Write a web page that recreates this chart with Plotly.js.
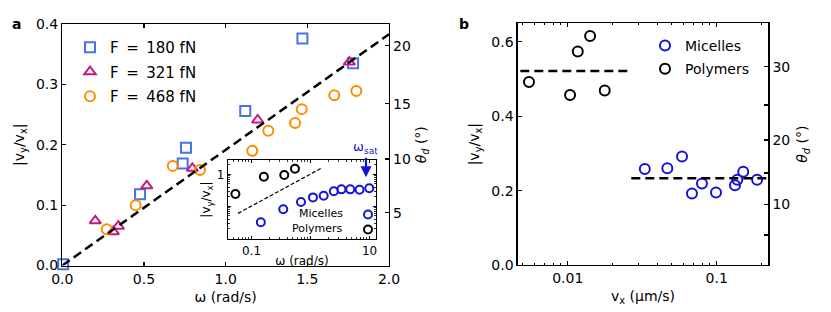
<!DOCTYPE html>
<html>
<head>
<meta charset="utf-8">
<script src="https://cdn.plot.ly/plotly-3.0.1.min.js"></script>
<style>html,body{margin:0;padding:0;background:#fff;}#chart{width:831px;height:312px;}</style>
</head>
<body>
<div id="chart"></div>
<script>
// ---- Panel a data ----
const omegaF180 = [0.005, 0.476, 0.737, 0.757, 1.12, 1.47, 1.78];
const ratioF180 = [0.002, 0.118, 0.169, 0.195, 0.256, 0.376, 0.335];
const omegaF321 = [0.202, 0.312, 0.343, 0.517, 0.796, 1.196, 1.757];
const ratioF321 = [0.074, 0.056, 0.065, 0.132, 0.161, 0.241, 0.337];
const omegaF468 = [0.272, 0.449, 0.676, 0.843, 1.163, 1.261, 1.425, 1.466, 1.665, 1.80];
const ratioF468 = [0.060, 0.100, 0.165, 0.158, 0.190, 0.223, 0.236, 0.259, 0.282, 0.289];
const fitOmega = [0, 2.0];
const fitRatio = [0, 0.383];
const thetaTicksA = [5, 10, 15, 20];
const forceLabels = ['F\u2002=\u2002180 fN', 'F\u2002=\u2002321 fN', 'F\u2002=\u2002468 fN'];

// ---- Inset data ----
const insetOmegaMic = [0.144, 0.345, 0.689, 1.10, 1.67, 2.48, 3.34, 4.70, 6.76, 9.89];
const insetRatioMic = [0.032, 0.081, 0.136, 0.19, 0.215, 0.295, 0.339, 0.339, 0.33, 0.365];
const insetOmegaPol = [0.0534, 0.162, 0.359, 0.545];
const insetRatioPol = [0.242, 0.84, 0.95, 1.50];
const insetFitOmega = [0.0592, 1.51];
const insetFitRatio = [0.0604, 1.54];
const omegaSat = 8.7;

// ---- Panel b data ----
const vxMic = [0.0329, 0.0466, 0.0585, 0.0682, 0.0796, 0.0989, 0.1327, 0.1375, 0.1507, 0.1867];
const ratioMic = [0.258, 0.260, 0.2915, 0.192, 0.219, 0.195, 0.2145, 0.229, 0.251, 0.229];
const vxPol = [0.00549, 0.01036, 0.01167, 0.01412, 0.0177];
const ratioPol = [0.492, 0.457, 0.574, 0.616, 0.469];
const polMeanVx = [0.0048, 0.0269];
const polMean = [0.522, 0.522];
const micMeanVx = [0.0267, 0.222];
const micMean = [0.233, 0.233];
const thetaTicksB = [10, 20, 30];
const thetaMinorB = [5, 15, 25];

const W = 831, H = 312;
const px = (a, b) => [a / W, b / W];
const py = (top, bot) => [(H - bot) / H, (H - top) / H];
const rad = d => Math.tan(d * Math.PI / 180);
const kB = 0.923;

const FONT = 'DejaVu Sans, sans-serif';
const cBlueSq = '#4a72e6', cMag = '#c8187f', cOrange = '#ff8c00', cBlue = '#1414d8';

const mk = (sym, col, size) => ({symbol: sym, size: size, color: col, line: {color: col, width: 2}});

const traces = [
  {x: omegaF180, y: ratioF180, xaxis: 'x', yaxis: 'y', mode: 'markers', name: forceLabels[0], marker: mk('square-open', cBlueSq, 10), legend: 'legend', legendgroup: 'a1', cliponaxis: false},
  {x: omegaF321, y: ratioF321, xaxis: 'x', yaxis: 'y', mode: 'markers', name: forceLabels[1], marker: mk('triangle-up-open', cMag, 10), legend: 'legend', legendgroup: 'a2'},
  {x: omegaF468, y: ratioF468, xaxis: 'x', yaxis: 'y', mode: 'markers', name: forceLabels[2], marker: mk('circle-open', cOrange, 10), legend: 'legend', legendgroup: 'a3'},
  {x: fitOmega, y: fitRatio, xaxis: 'x', yaxis: 'y', mode: 'lines', line: {color: '#000', width: 2.5, dash: '9px,5px'}, showlegend: false},
  // invisible carrier so the right-hand θ axis of panel a is drawn
  {x: fitOmega, y: fitRatio, xaxis: 'x', yaxis: 'y2', mode: 'lines', line: {color: 'rgba(0,0,0,0)', width: 0}, showlegend: false, hoverinfo: 'skip'},
  // inset
  {x: insetFitOmega, y: insetFitRatio, xaxis: 'x3', yaxis: 'y5', mode: 'lines', line: {color: '#000', width: 1.2, dash: '4px,2px'}, showlegend: false},
  {x: insetOmegaMic, y: insetRatioMic, xaxis: 'x3', yaxis: 'y5', mode: 'markers', name: ' ', marker: mk('circle-open', cBlue, 8), legend: 'legend3'},
  {x: insetOmegaPol, y: insetRatioPol, xaxis: 'x3', yaxis: 'y5', mode: 'markers', name: ' ', marker: mk('circle-open', '#000', 8), legend: 'legend4'},
  // panel b
  {x: vxMic, y: ratioMic, xaxis: 'x2', yaxis: 'y3', mode: 'markers', name: 'Micelles', marker: mk('circle-open', cBlue, 10), legend: 'legend2', legendgroup: 'b1'},
  {x: vxPol, y: ratioPol, xaxis: 'x2', yaxis: 'y3', mode: 'markers', name: 'Polymers', marker: mk('circle-open', '#000', 10), legend: 'legend2', legendgroup: 'b2'},
  {x: polMeanVx, y: polMean, xaxis: 'x2', yaxis: 'y3', mode: 'lines', line: {color: '#000', width: 2.5, dash: '9px,5px'}, showlegend: false},
  {x: micMeanVx, y: micMean, xaxis: 'x2', yaxis: 'y3', mode: 'lines', line: {color: '#000', width: 2.5, dash: '9px,5px'}, showlegend: false},
  // invisible carrier so the right-hand θ axis of panel b is drawn
  {x: micMeanVx, y: micMean, xaxis: 'x2', yaxis: 'y4', mode: 'lines', line: {color: 'rgba(0,0,0,0)', width: 0}, showlegend: false, hoverinfo: 'skip'}
];

const tickF = {family: FONT, size: 14, color: '#000'};
const titleF = {family: FONT, size: 14, color: '#000'};
const smallF = {family: FONT, size: 12, color: '#000'};
const axBase = {showline: true, linecolor: '#000', linewidth: 1.3, ticks: 'inside', tickcolor: '#000', tickwidth: 1.2, ticklen: 4, showgrid: false, zeroline: false, tickfont: tickF};
const legBase = {xanchor: 'left', yanchor: 'top', bgcolor: 'rgba(0,0,0,0)', itemwidth: 30};

const layout = {
  width: W, height: H,
  margin: {l: 0, r: 0, t: 0, b: 0},
  paper_bgcolor: '#fff', plot_bgcolor: 'rgba(0,0,0,0)',
  font: {family: FONT, color: '#000'},
  xaxis: Object.assign({}, axBase, {domain: px(62.3, 389), range: [0, 2], anchor: 'y', tickvals: [0, 0.5, 1, 1.5, 2], tickformat: '.1f', mirror: 'ticks',
    title: {text: 'ω (rad/s)', font: titleF, standoff: 6}}),
  yaxis: Object.assign({}, axBase, {domain: py(24, 265.5), range: [0, 0.4], anchor: 'x', tickvals: [0, 0.1, 0.2, 0.3, 0.4], tickformat: '.1f',
    title: {text: '|v<sub>y</sub>/v<sub>x</sub>|', font: titleF, standoff: 8}}),
  yaxis2: Object.assign({}, axBase, {overlaying: 'y', side: 'right', anchor: 'x', range: [0, 0.4],
    tickvals: thetaTicksA.map(rad), ticktext: thetaTicksA.map(String),
    title: {text: '<i>θ<sub>d</sub></i> (°)', font: titleF, standoff: 6}}),
  xaxis2: Object.assign({}, axBase, {domain: px(517.7, 768.3), type: 'log', range: [Math.log10(0.00461), Math.log10(0.222)], anchor: 'y3',
    tickvals: [0.01, 0.1], ticktext: ['0.01', '0.1'], mirror: 'ticks',
    minor: {ticks: 'inside', ticklen: 2, tickcolor: '#000', tickwidth: 1, dtick: 'D1'},
    title: {text: 'v<sub>x</sub> (µm/s)', font: titleF, standoff: 6}}),
  yaxis3: Object.assign({}, axBase, {domain: py(23.3, 265), range: [0, 0.65], anchor: 'x2', tickvals: [0, 0.2, 0.4, 0.6], tickformat: '.1f',
    title: {text: '|v<sub>y</sub>/v<sub>x</sub>|', font: titleF, standoff: 8}}),
  yaxis4: Object.assign({}, axBase, {overlaying: 'y3', side: 'right', anchor: 'x2', range: [0, 0.65 / kB],
    tickvals: thetaTicksB.map(rad), ticktext: thetaTicksB.map(String),
    minor: {tickvals: thetaMinorB.map(rad), ticks: 'inside', ticklen: 4, tickcolor: '#000', tickwidth: 1.2},
    title: {text: '<i>θ<sub>d</sub></i> (°)', font: titleF, standoff: 8}}),
  xaxis3: Object.assign({}, axBase, {domain: px(228, 376), type: 'log', range: [-1.398, 1.109], anchor: 'y5', mirror: 'ticks',
    tickvals: [0.1, 1, 10], ticktext: ['0.1', '', '10'], tickfont: smallF, ticklen: 3, linewidth: 1.2,
    minor: {ticks: 'inside', ticklen: 2, tickcolor: '#000', tickwidth: 0.8, dtick: 'D1'},
    title: {text: 'ω (rad/s)', font: smallF, standoff: 0}}),
  yaxis5: Object.assign({}, axBase, {domain: py(160, 239), type: 'log', range: [-2.02, 0.447], anchor: 'x3', mirror: 'ticks',
    tickvals: [0.01, 0.1, 1], ticktext: ['', '', '1'], tickfont: smallF, ticklen: 3, linewidth: 1.2,
    minor: {ticks: 'inside', ticklen: 2, tickcolor: '#000', tickwidth: 0.8, dtick: 'D1'},
    title: {text: '|v<sub>y</sub>/v<sub>x</sub>|', font: smallF, standoff: 3}}),
  legend: Object.assign({}, legBase, {x: 70 / W, y: (H - 31) / H, font: {family: FONT, size: 15, color: '#000'}, tracegroupgap: 2}),
  legend2: Object.assign({}, legBase, {x: 645 / W, y: (H - 30) / H, font: {family: FONT, size: 14, color: '#000'}, tracegroupgap: 2}),
  legend3: Object.assign({}, legBase, {x: 348 / W, y: (H - 200) / H, font: {family: FONT, size: 9, color: '#000'}}),
  legend4: Object.assign({}, legBase, {x: 348 / W, y: (H - 215) / H, font: {family: FONT, size: 9, color: '#000'}}),
  annotations: [
    {xref: 'paper', yref: 'paper', x: 10 / W, y: (H - 24) / H, text: '<b>a</b>', showarrow: false, font: {family: FONT, size: 14, color: '#000'}, xanchor: 'left', yanchor: 'middle'},
    {xref: 'paper', yref: 'paper', x: 457 / W, y: (H - 24) / H, text: '<b>b</b>', showarrow: false, font: {family: FONT, size: 14, color: '#000'}, xanchor: 'left', yanchor: 'middle'},
    {xref: 'paper', yref: 'paper', x: 345 / W, y: (H - 213) / H, text: 'Micelles', showarrow: false, font: {family: FONT, size: 11, color: '#000'}, xanchor: 'right', yanchor: 'middle'},
    {xref: 'paper', yref: 'paper', x: 345 / W, y: (H - 228) / H, text: 'Polymers', showarrow: false, font: {family: FONT, size: 11, color: '#000'}, xanchor: 'right', yanchor: 'middle'},
    {xref: 'x3', yref: 'y5', x: Math.log10(omegaSat), y: -0.09, text: '', showarrow: true, arrowhead: 2, arrowsize: 1, arrowwidth: 2.2, arrowcolor: cBlue, ax: 0, ay: -21, standoff: 0},
    {xref: 'x3', yref: 'paper', x: Math.log10(omegaSat), y: (H - 147) / H, text: 'ω<sub>sat</sub>', showarrow: false, font: {family: FONT, size: 13, color: cBlue}, xanchor: 'center', yanchor: 'middle'}
  ]
};

Plotly.newPlot('chart', traces, layout, {displayModeBar: false, staticPlot: true});
</script>
</body>
</html>
